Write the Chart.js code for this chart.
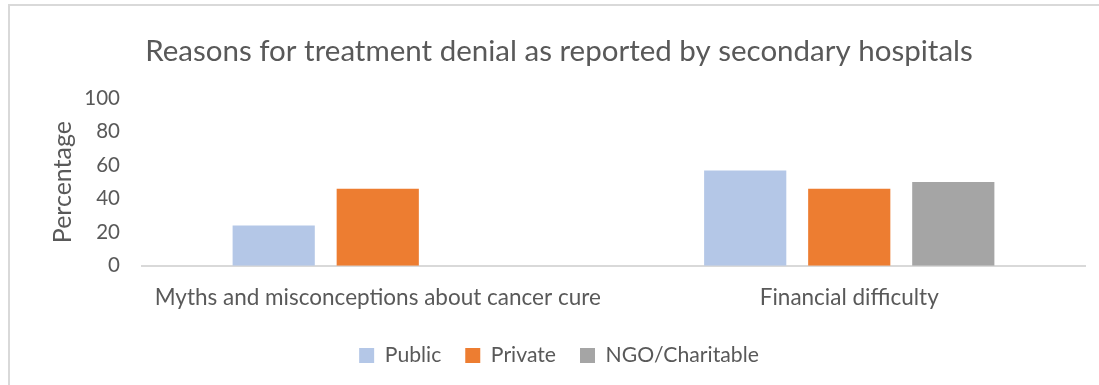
<!DOCTYPE html>
<html>
<head>
<meta charset="utf-8">
<script src="https://cdn.jsdelivr.net/npm/chart.js@4.4.1/dist/chart.umd.min.js"></script>
<style>
  html, body { margin: 0; padding: 0; background: #fff; }
  #wrap { position: relative; width: 1099px; height: 385px; }
  #frame { position: absolute; left: 8px; top: 4px; right: -4px; bottom: -4px; border: 2px solid #d9d9d9; }
  canvas { position: absolute; left: 0; top: 0; }
</style>
</head>
<body>
<div id="wrap">
  <div id="frame"></div>
  <canvas id="chartCtx" width="1099" height="385"></canvas>
</div>
<script>
const reasons = ["Myths and misconceptions about cancer cure", "Financial difficulty"];
const publicValues = [24, 57];
const privateValues = [46, 46];
const ngoValues = [0, 50];
const yTicks = [0, 20, 40, 60, 80, 100];

const textGrey = "#595959";
const fontName = "Lato, 'Open Sans', sans-serif";

const ctx = document.getElementById("chartCtx");
new Chart(ctx, {
    type: "bar",
    data: {
        labels: reasons,
        datasets: [
            { label: "Public", data: publicValues, backgroundColor: "#b4c7e7" },
            { label: "Private", data: privateValues, backgroundColor: "#ed7d31" },
            { label: "NGO/Charitable", data: ngoValues, backgroundColor: "#a5a5a5" }
        ]
    },
    options: {
        responsive: false,
        animation: false,
        layout: { padding: { left: 33, right: 14, top: 34, bottom: 9 } },
        datasets: {
            bar: { categoryPercentage: 0.662, barPercentage: 0.79 }
        },
        plugins: {
            title: {
                display: true,
                text: "Reasons for treatment denial as reported by secondary hospitals",
                color: textGrey,
                font: { family: fontName, size: 29.5, weight: "normal" },
                padding: { top: 0, bottom: 29 }
            },
            legend: {
                position: "bottom",
                labels: {
                    color: textGrey,
                    font: { family: fontName, size: 21.2 },
                    boxWidth: 15,
                    boxHeight: 15,
                    padding: 24
                }
            },
            tooltip: { enabled: false }
        },
        scales: {
            x: {
                grid: { display: false },
                border: { color: "#d9d9d9", width: 2 },
                ticks: { color: textGrey, font: { family: fontName, size: 22.5 }, padding: 10 }
            },
            y: {
                min: 0,
                max: 100,
                afterBuildTicks(axis) {
                    axis.ticks = yTicks.map(v => ({ value: v }));
                },
                afterFit(axis) { axis.width = 109; },
                grid: { display: false },
                border: { display: false },
                ticks: { color: textGrey, font: { family: fontName, size: 20.5 }, padding: 14 },
                title: {
                    display: true,
                    text: "Percentage",
                    color: textGrey,
                    font: { family: fontName, size: 25 },
                    padding: { top: 15, bottom: 0 }
                }
            }
        }
    }
});
</script>
</body>
</html>
